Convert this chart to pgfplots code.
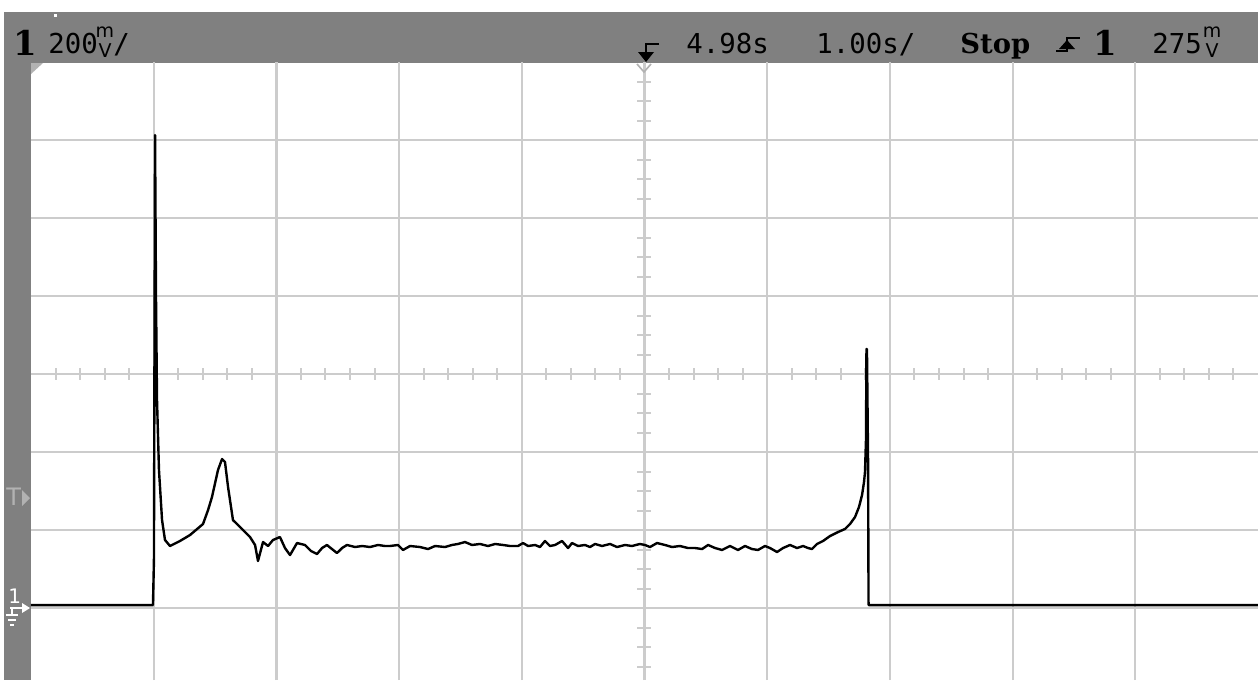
\documentclass[border=0pt]{standalone}
\usepackage{fontspec}
\setmainfont{DejaVu Sans}
\newfontfamily\scopemono{DejaVu Sans Mono}
\newfontfamily\scopeserif{DejaVu Serif}
\usepackage{pgfplots}
\pgfplotsset{compat=1.18}
\definecolor{scopegray}{gray}{0.5}
\definecolor{gridgray}{gray}{0.8}
\definecolor{markgray}{gray}{0.7}
\newcommand{\mVstack}{\fontsize{9.5pt}{7pt}\selectfont\shortstack{m\\V}}
\begin{document}
\begin{tikzpicture}
\path[use as bounding box] (0,0) rectangle (629pt,-340pt);
\begin{scope}[x=0.5pt,y=-0.5pt]
\fill[white] (0,0) rectangle (1258,680);
\fill[scopegray] (4,12) rectangle (1258,63);
\fill[scopegray] (4,12) rectangle (31,680);
\fill[white] (54,14) rectangle (57,17);
% minor ticks on the centre lines
\foreach \k in {1,...,49}{
  \pgfmathtruncatemacro\r{mod(\k,5)}
  \ifnum\r>0
    \draw[gridgray, line width=1pt] ({31+\k*24.54},368) -- ({31+\k*24.54},380);
  \fi
}
\foreach \k in {1,...,31}{
  \pgfmathtruncatemacro\r{mod(\k,4)}
  \ifnum\r>0
    \draw[gridgray, line width=1pt] (637,{62+\k*19.5}) -- (651,{62+\k*19.5});
  \fi
}
\end{scope}
\begin{axis}[at={(15.5pt,-340pt)}, anchor=south west,
  width=613.5pt, height=309pt, scale only axis,
  xmin=0, xmax=10, ymin=-3.923, ymax=4,
  xtick={1,...,9}, ytick={-3,...,3},
  xticklabels={}, yticklabels={},
  major tick length=0pt,
  grid=major, major grid style={draw=gridgray, line width=1.1pt},
  axis line style={draw=none}]
\addplot[black, line width=1.2pt, line join=round, mark=none] coordinates {
(0.000,-2.962) (0.994,-2.962) (1.002,-2.385) (1.011,3.064) (1.019,0.949)
(1.027,-0.333) (1.043,-1.231) (1.068,-1.872) (1.092,-2.128) (1.133,-2.205)
(1.214,-2.141) (1.296,-2.064) (1.402,-1.923) (1.443,-1.744) (1.475,-1.577)
(1.524,-1.231) (1.557,-1.090) (1.581,-1.128) (1.606,-1.449) (1.646,-1.872)
(1.728,-2.000) (1.785,-2.090) (1.826,-2.192) (1.850,-2.397) (1.891,-2.154)
(1.932,-2.205) (1.972,-2.128) (2.029,-2.090) (2.070,-2.231) (2.111,-2.321)
(2.168,-2.167) (2.233,-2.192) (2.282,-2.269) (2.331,-2.308) (2.372,-2.231)
(2.412,-2.192) (2.453,-2.244) (2.494,-2.295) (2.535,-2.231) (2.575,-2.192)
(2.641,-2.218) (2.698,-2.205) (2.763,-2.218) (2.828,-2.192) (2.885,-2.205)
(2.926,-2.205) (2.991,-2.192) (3.032,-2.256) (3.089,-2.205) (3.170,-2.218)
(3.236,-2.244) (3.293,-2.205) (3.374,-2.218) (3.431,-2.192) (3.480,-2.179)
(3.537,-2.154) (3.594,-2.192) (3.659,-2.179) (3.725,-2.205) (3.782,-2.179)
(3.847,-2.192) (3.904,-2.205) (3.969,-2.205) (4.010,-2.167) (4.051,-2.205)
(4.108,-2.192) (4.148,-2.218) (4.189,-2.141) (4.230,-2.205) (4.271,-2.192)
(4.328,-2.141) (4.377,-2.231) (4.409,-2.167) (4.458,-2.205) (4.515,-2.192)
(4.556,-2.218) (4.597,-2.179) (4.654,-2.205) (4.719,-2.179) (4.776,-2.218)
(4.841,-2.192) (4.898,-2.205) (4.963,-2.179) (5.004,-2.192) (5.045,-2.218)
(5.102,-2.167) (5.167,-2.192) (5.224,-2.218) (5.289,-2.205) (5.355,-2.231)
(5.412,-2.231) (5.469,-2.244) (5.518,-2.192) (5.575,-2.231) (5.632,-2.256)
(5.697,-2.205) (5.762,-2.256) (5.819,-2.205) (5.876,-2.244) (5.925,-2.256)
(5.982,-2.205) (6.023,-2.231) (6.080,-2.282) (6.129,-2.231) (6.186,-2.192)
(6.243,-2.231) (6.292,-2.205) (6.333,-2.231) (6.365,-2.244) (6.406,-2.179)
(6.455,-2.141) (6.512,-2.077) (6.577,-2.026) (6.634,-1.987) (6.675,-1.923)
(6.716,-1.833) (6.748,-1.705) (6.773,-1.551) (6.789,-1.385) (6.797,-1.256)
(6.805,-0.846) (6.809,0.321) (6.813,0.321) (6.822,-1.103) (6.826,-2.962)
(10.000,-2.962)
};
\end{axis}
\begin{scope}[x=0.5pt,y=-0.5pt]
% plot corner marks
\fill[markgray] (31,63) -- (43,63) -- (31,74) -- cycle;
\draw[markgray, line width=0.8pt] (637,64) -- (644,72) -- (651,64);
% header texts
\node[anchor=base west, inner sep=0, font={\scopeserif\bfseries\fontsize{17pt}{17pt}\selectfont}] at (13,55) {1};
\node[anchor=base west, inner sep=0, font={\scopemono\fontsize{13.7pt}{13.7pt}\selectfont}] at (48,53) {200};
\node[anchor=south, inner sep=0] at (105,57.5) {\mVstack};
\node[anchor=base west, inner sep=0, font={\scopemono\fontsize{13.7pt}{13.7pt}\selectfont}] at (113,54) {/};
% trigger position arrow
\draw[black, line width=1.4pt] (659,44) -- (646,44) -- (646,54);
\fill[black] (638,52) -- (654,52) -- (646,62) -- cycle;
\node[anchor=base west, inner sep=0, font={\scopemono\fontsize{13.7pt}{13.7pt}\selectfont}] at (686,53) {4.98s};
\node[anchor=base west, inner sep=0, font={\scopemono\fontsize{13.7pt}{13.7pt}\selectfont}] at (816,53) {1.00s/};
\node[anchor=base west, inner sep=0, font={\scopeserif\bfseries\fontsize{13.7pt}{13.7pt}\selectfont}] at (960,53) {Stop};
% rising-edge trigger symbol
\draw[black, line width=1.2pt] (1056,51) -- (1067,51) -- (1067,38) -- (1080,38);
\fill[black] (1059,49) -- (1075,49) -- (1067,40) -- cycle;
\node[anchor=base west, inner sep=0, font={\scopeserif\bfseries\fontsize{17pt}{17pt}\selectfont}] at (1093,55) {1};
\node[anchor=base west, inner sep=0, font={\scopemono\fontsize{13.7pt}{13.7pt}\selectfont}] at (1152,53) {275};
\node[anchor=south, inner sep=0] at (1212,57.5) {\mVstack};
% left strip markers
\node[anchor=base west, inner sep=0, text=markgray, font={\fontsize{12pt}{12pt}\selectfont}] at (6,505) {T};
\fill[markgray] (22,490) -- (30,498) -- (22,506) -- cycle;
\node[anchor=base west, inner sep=0, text=white, font={\fontsize{10pt}{10pt}\selectfont}] at (8,603) {1};
\draw[white, line width=1pt] (10,608) -- (26,608);
\fill[white] (22,603) -- (30,608) -- (22,613) -- cycle;
\draw[white, line width=1pt] (12,608) -- (12,615);
\draw[white, line width=1pt] (6,615) -- (18,615);
\draw[white, line width=1pt] (8,620) -- (16,620);
\draw[white, line width=1pt] (10,625) -- (14,625);
\end{scope}
\end{tikzpicture}
\end{document}
